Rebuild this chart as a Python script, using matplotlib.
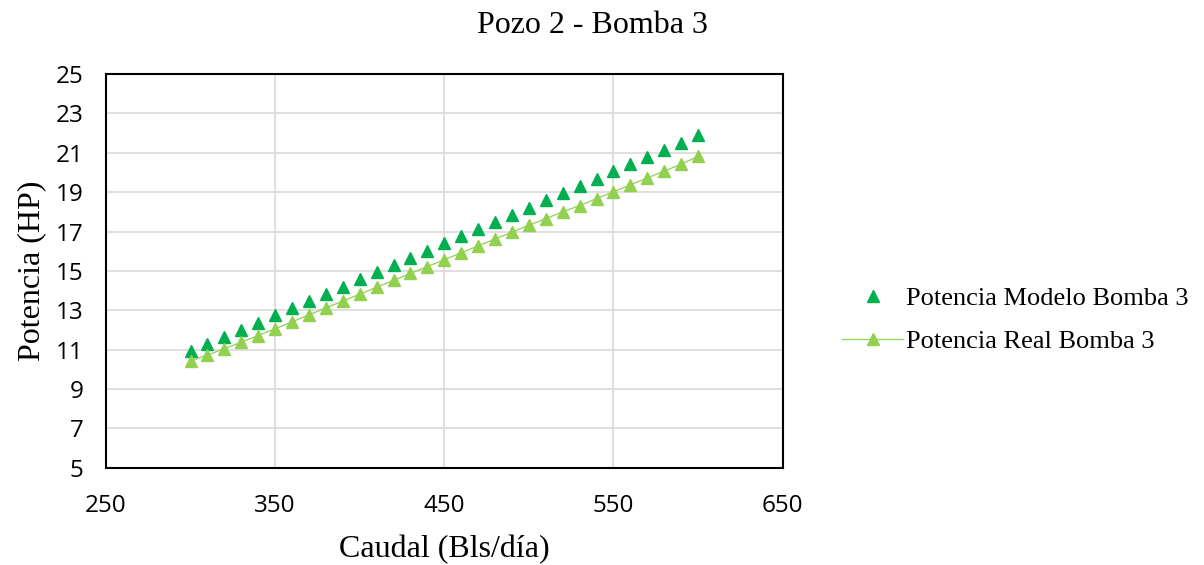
import matplotlib
matplotlib.use("Agg")
import matplotlib.pyplot as plt

# datos
caudal = [300, 310, 320, 330, 340, 350, 360, 370, 380, 390, 400, 410, 420, 430, 440, 450,
          460, 470, 480, 490, 500, 510, 520, 530, 540, 550, 560, 570, 580, 590, 600]
pot_modelo = [10.92, 11.28, 11.65, 12.01, 12.38, 12.74, 13.11, 13.47, 13.84, 14.2, 14.57,
              14.93, 15.3, 15.66, 16.03, 16.4, 16.76, 17.13, 17.49, 17.86, 18.22, 18.59,
              18.95, 19.32, 19.68, 20.05, 20.42, 20.78, 21.15, 21.51, 21.88]
pot_real = [10.42, 10.73, 11.05, 11.38, 11.72, 12.06, 12.41, 12.77, 13.12, 13.47, 13.82,
            14.17, 14.52, 14.87, 15.22, 15.57, 15.92, 16.27, 16.62, 16.97, 17.32, 17.65,
            18.0, 18.32, 18.67, 19.02, 19.37, 19.72, 20.07, 20.42, 20.82]

x_ticks = [250, 350, 450, 550, 650]
y_ticks = [5, 7, 9, 11, 13, 15, 17, 19, 21, 23, 25]

serif = ["Liberation Serif", "DejaVu Serif"]
sans = ["Open Sans", "Liberation Sans", "DejaVu Sans"]

fig = plt.figure(figsize=(12.04, 5.65), dpi=100)
ax = fig.add_axes([0.088, 0.172, 0.562, 0.697])

ax.plot(caudal, pot_modelo, linestyle="none", marker="^", markersize=9,
        color="#00b050", label="Potencia Modelo Bomba 3", zorder=3)
ax.plot(caudal, pot_real, linestyle="-", linewidth=0.9, marker="^", markersize=9,
        color="#92d050", label="Potencia Real Bomba 3", zorder=3)

ax.set_xlim(250, 650)
ax.set_ylim(5, 25)
ax.set_xticks(x_ticks)
ax.set_yticks(y_ticks)
ax.grid(True, color="#d9d9d9", linewidth=1.2)
ax.set_axisbelow(True)
for s in ax.spines.values():
    s.set_linewidth(1.5)
    s.set_color("black")
ax.tick_params(axis="x", length=0, pad=19, labelsize=17.5)
ax.tick_params(axis="y", length=0, pad=16, labelsize=17.5)
for lab in ax.get_xticklabels() + ax.get_yticklabels():
    lab.set_family(sans)

ax.set_xlabel("Caudal (Bls/día)", family=serif, fontsize=23, labelpad=12)
ax.set_ylabel("Potencia (HP)", family=serif, fontsize=23, labelpad=7)
fig.suptitle("Pozo 2 - Bomba 3", family=serif, fontsize=23, x=0.492, y=0.98)

ax.legend(loc="center left", bbox_to_anchor=(1.053, 0.376), frameon=False,
          prop={"family": serif, "size": 19}, handlelength=2.3, labelspacing=0.75,
          handletextpad=0.1)

fig.savefig("out.png", dpi=100)
